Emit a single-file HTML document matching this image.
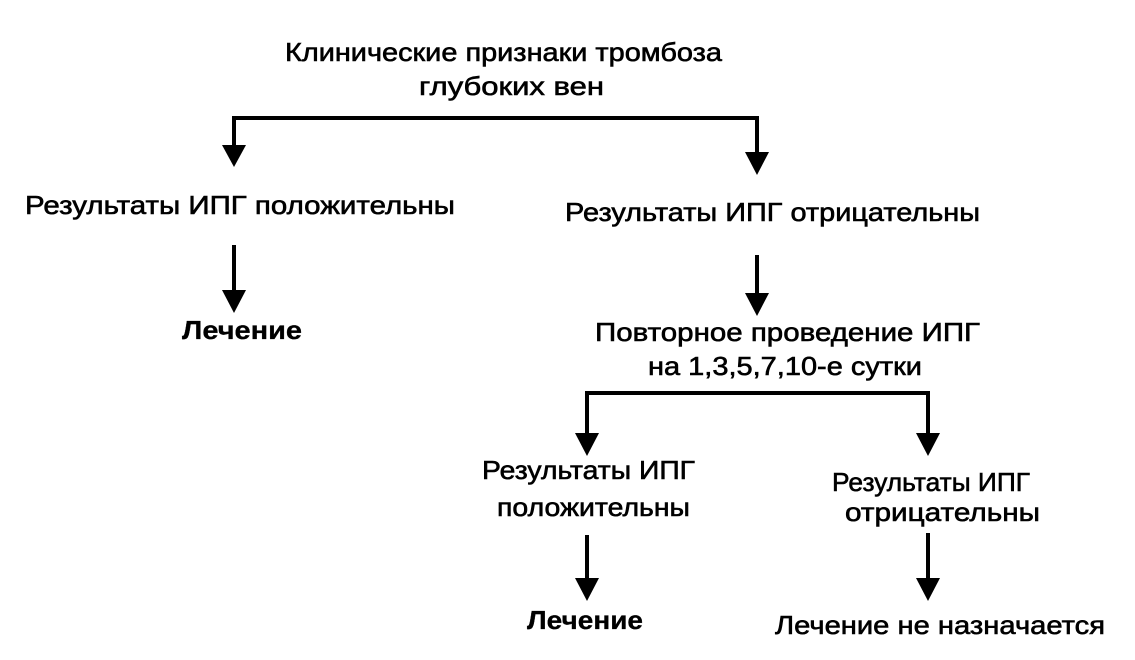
<!DOCTYPE html>
<html><head><meta charset="utf-8"><style>
html,body{margin:0;padding:0;background:#fff;}
svg{display:block}
text{font-family:"Liberation Sans","DejaVu Sans",sans-serif;font-size:26px;fill:#000;stroke:#000;stroke-width:0.6px;}
.b{font-weight:bold;stroke-width:0.3px}
</style></head><body>
<svg width="1135" height="660" viewBox="0 0 1135 660">
<g stroke="#000" stroke-width="4" fill="none">
<polyline points="234,160 234,118 757,118 757,165"/>
<line x1="234" y1="245" x2="234" y2="300"/>
<line x1="757" y1="255" x2="757" y2="305"/>
<polyline points="587,445 587,393 928,393 928,445"/>
<line x1="587" y1="535" x2="587" y2="590"/>
<line x1="928" y1="533" x2="928" y2="590"/>
</g>
<g fill="#000">
<polygon points="222,145 246,145 234,167"/>
<polygon points="745,152 769,152 757,175"/>
<polygon points="222,290 246,290 234,313"/>
<polygon points="745,293 769,293 757,316"/>
<polygon points="575,433 599,433 587,456"/>
<polygon points="916,433 940,433 928,456"/>
<polygon points="575,578 599,578 587,601"/>
<polygon points="916,578 940,578 928,601"/>
</g>
<text x="285" y="61" textLength="437" lengthAdjust="spacingAndGlyphs">Клинические признаки тромбоза</text>
<text x="419" y="95" textLength="185" lengthAdjust="spacingAndGlyphs">глубоких вен</text>
<text x="25" y="214" textLength="430" lengthAdjust="spacingAndGlyphs">Результаты ИПГ положительны</text>
<text x="565" y="221" textLength="415" lengthAdjust="spacingAndGlyphs">Результаты ИПГ отрицательны</text>
<text class="b" x="182" y="339" textLength="120" lengthAdjust="spacingAndGlyphs">Лечение</text>
<text x="595" y="341" textLength="385" lengthAdjust="spacingAndGlyphs">Повторное проведение ИПГ</text>
<text x="648" y="375" textLength="274" lengthAdjust="spacingAndGlyphs">на 1,3,5,7,10-е сутки</text>
<text x="482" y="479" textLength="213" lengthAdjust="spacingAndGlyphs">Результаты ИПГ</text>
<text x="497" y="516" textLength="193" lengthAdjust="spacingAndGlyphs">положительны</text>
<text x="832" y="491" textLength="198" lengthAdjust="spacingAndGlyphs">Результаты ИПГ</text>
<text x="845" y="521" textLength="195" lengthAdjust="spacingAndGlyphs">отрицательны</text>
<text class="b" x="527" y="629" textLength="116" lengthAdjust="spacingAndGlyphs">Лечение</text>
<text x="775" y="634" textLength="330" lengthAdjust="spacingAndGlyphs">Лечение не назначается</text>
</svg>
</body></html>
